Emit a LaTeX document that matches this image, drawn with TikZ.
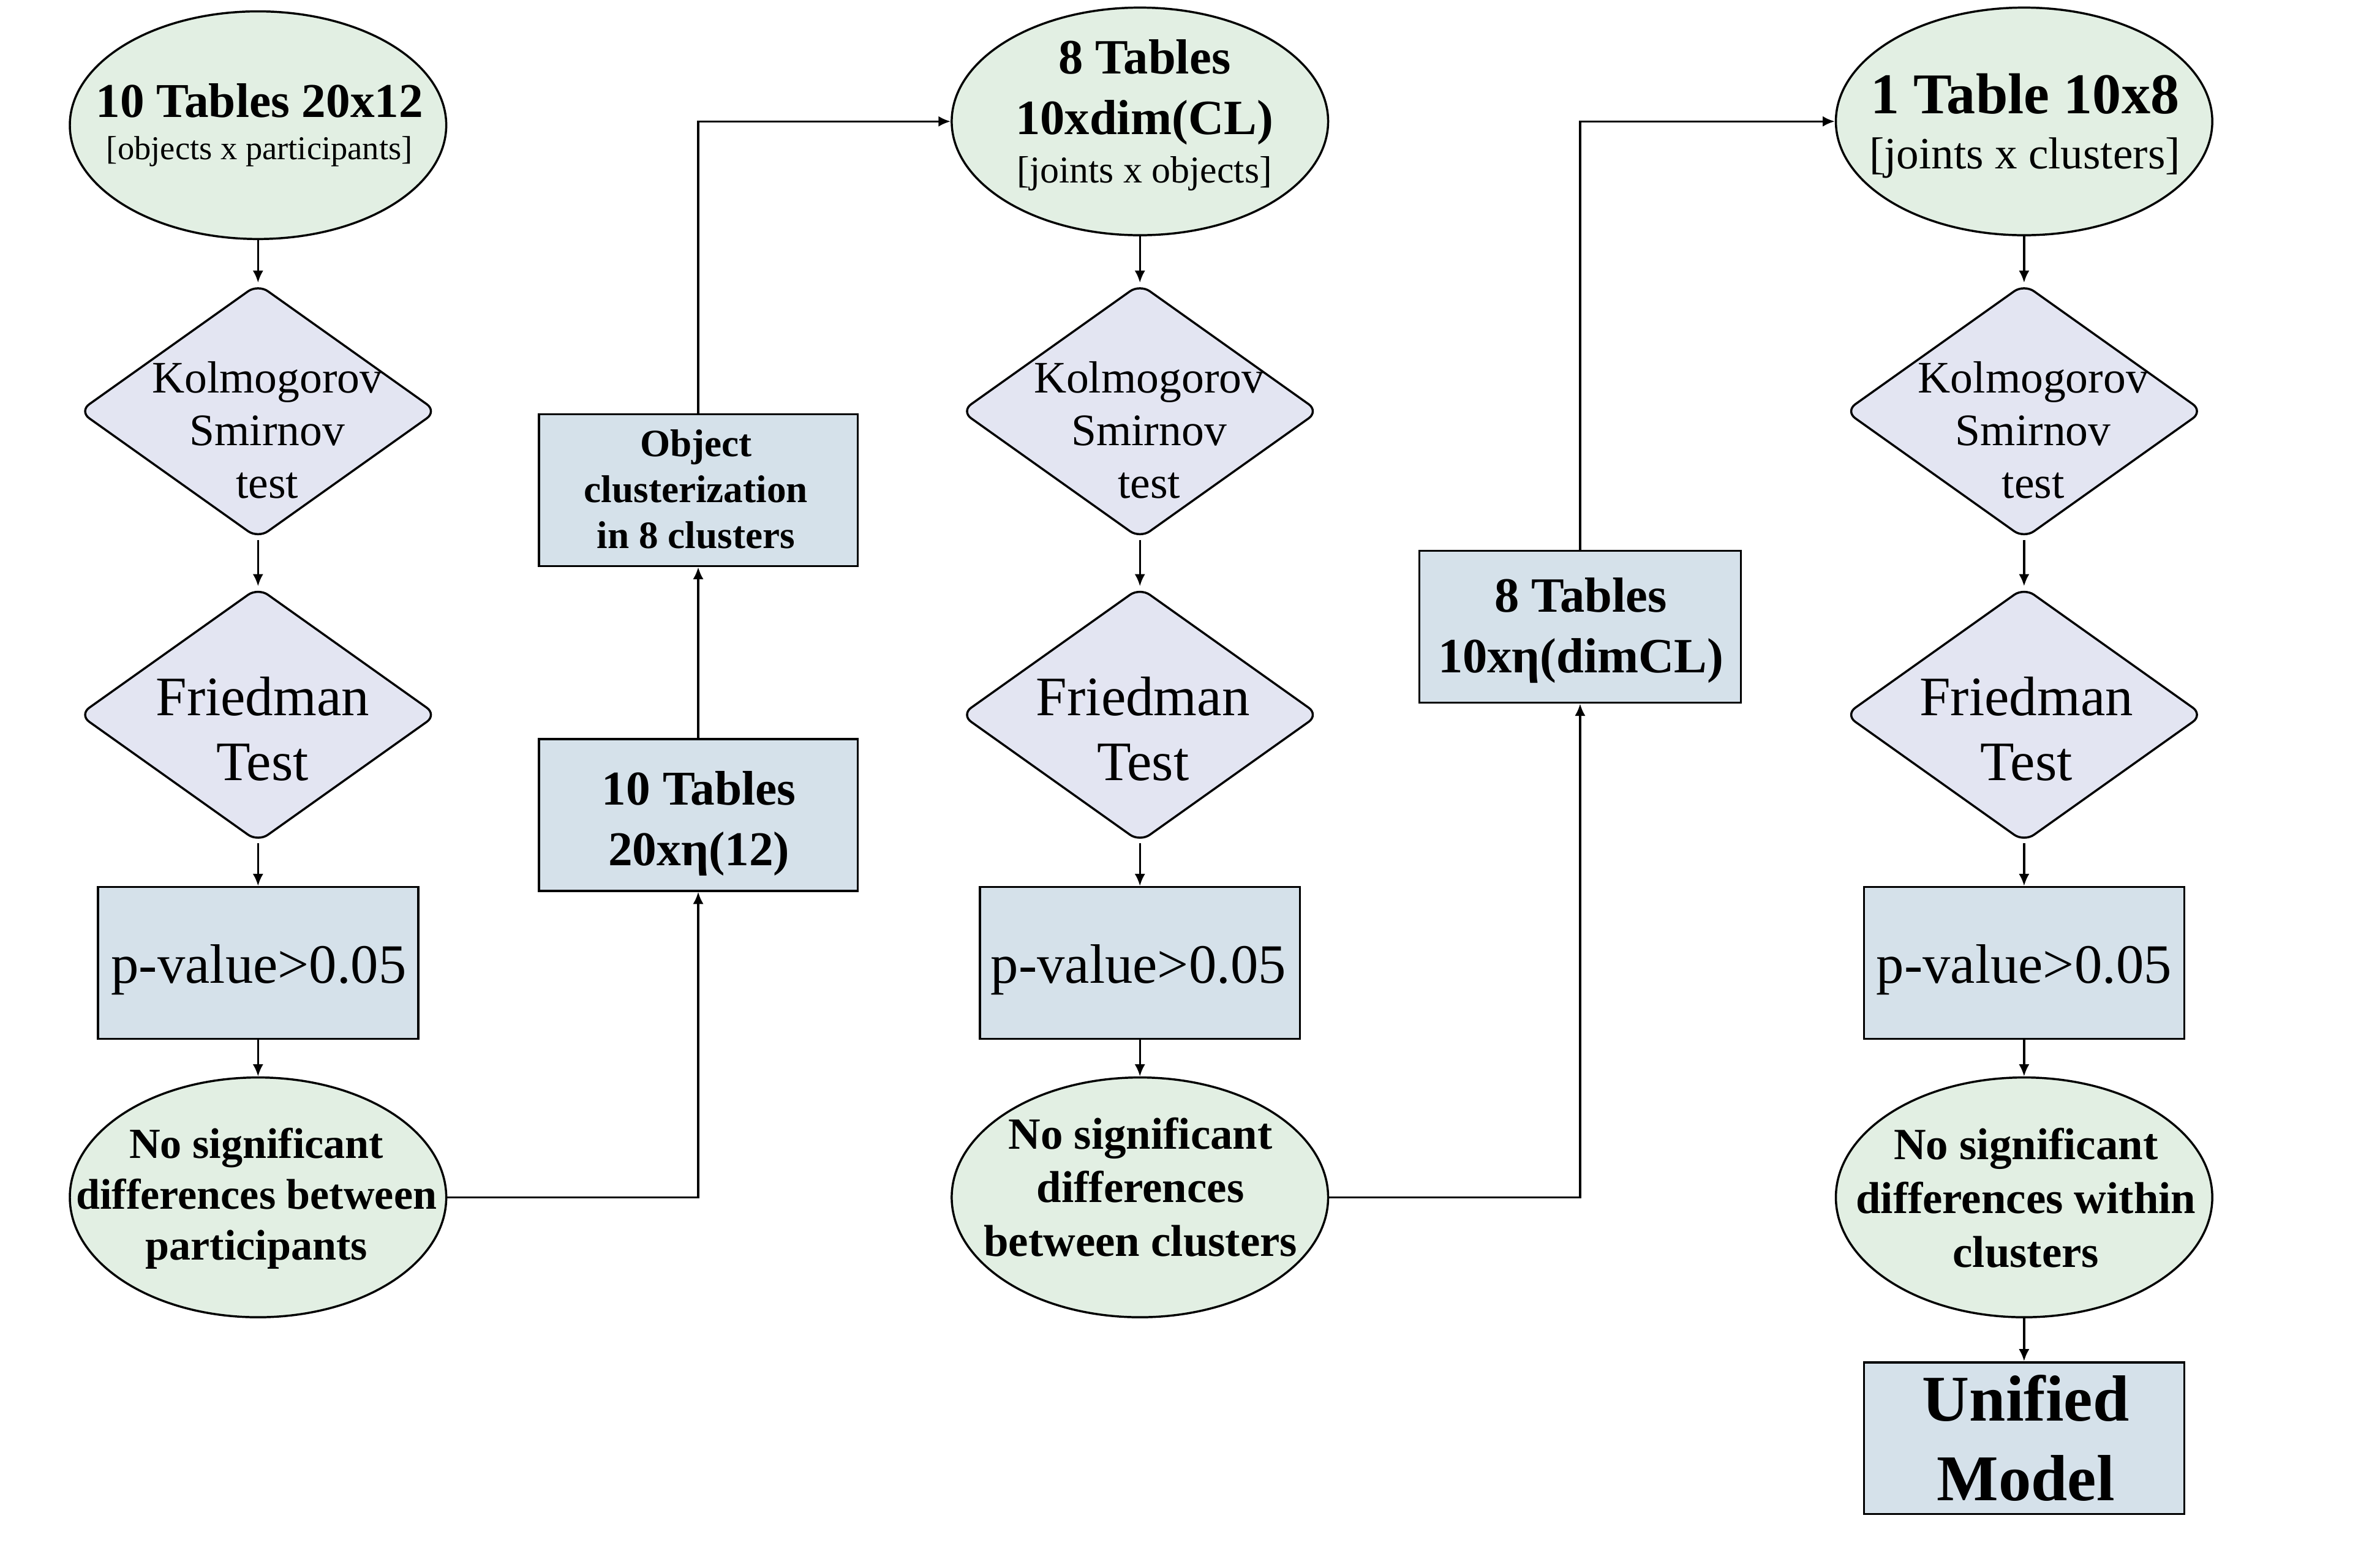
\documentclass[tikz,border=0pt]{standalone}
\usepackage{fontspec}
\setmainfont{Liberation Serif}
\usetikzlibrary{shapes.geometric,arrows.meta}
\definecolor{cgreen}{RGB}{226,239,227}
\definecolor{cviolet}{RGB}{227,229,242}
\definecolor{cblue}{RGB}{213,225,234}
\newcommand{\FS}[2]{\fontsize{#1}{#2}\selectfont}
\tikzset{
  oval/.style={ellipse,draw,fill=cgreen,line width=1.4pt,inner sep=0pt,minimum width=248pt,minimum height=150pt},
  lowoval/.style={oval,minimum height=158pt},
  decision/.style={diamond,draw,fill=cviolet,line width=1.4pt,inner sep=0pt,minimum width=236pt,minimum height=168pt,rounded corners=8pt},
  databox/.style={rectangle,draw,fill=cblue,line width=1.4pt,inner sep=0pt,minimum width=211pt,minimum height=100pt},
  lbl/.style={align=center,inner sep=0pt},
  arr/.style={-{Latex[length=8pt,width=7pt]},line width=1.4pt},
}
\begin{document}
\begin{tikzpicture}[x=1pt,y=-1pt]
\useasboundingbox (0,0) rectangle (1568,1027);
% column 1
\node[oval] (e1) at (170,82.5) {};
\node[decision] (k1) at (170,271) {};
\node[decision] (f1) at (170,471) {};
\node[databox] (p1) at (170,634.5) {};
\node[lowoval] (n1) at (170,789) {};
% middle boxes
\node[databox,minimum width=210pt] (o1) at (460,323) {};
\node[databox,minimum width=210pt] (t1) at (460,537) {};
% column 2
\node[oval] (e2) at (751,80) {};
\node[decision] (k2) at (751,271) {};
\node[decision] (f2) at (751,471) {};
\node[databox] (p2) at (751,634.5) {};
\node[lowoval] (n2) at (751,789) {};
\node[databox,minimum width=212pt] (b3) at (1041,413) {};
% column 3
\node[oval] (e3) at (1333.5,80) {};
\node[decision] (k3) at (1333.5,271) {};
\node[decision] (f3) at (1333.5,471) {};
\node[databox] (p3) at (1333.5,634.5) {};
\node[lowoval] (n3) at (1333.5,789) {};
\node[databox] (u3) at (1333.5,947.7) {};

% texts
\node[lbl,font=\FS{22}{28}] (e1t) at (171,82.4) {{\FS{32}{28}\bfseries 10 Tables 20x12}\\ {[objects x participants]}};
\node[lbl,font=\FS{29.7}{34.7}] (k1t) at (176,283.2) {Kolmogorov\\Smirnov\\test};
\node[lbl,font=\FS{36.7}{43}] (f1t) at (173,480.4) {Friedman\\Test};
\node[lbl,font=\FS{36.6}{40}] (p1t) at (170.5,639) {p-value>0.05};
\node[lbl,font=\FS{28.3}{33.5}\bfseries] (n1t) at (169,789.7) {No significant\\differences between\\participants};

\node[lbl,font=\FS{25.5}{30.3}\bfseries] (o1t) at (458.5,322.5) {Object\\clusterization\\in 8 clusters};
\node[lbl,font=\FS{32}{40}\bfseries] (t1t) at (460.5,542.5) {10 Tables\\20xη(12)};

\node[lbl,font=\FS{32.5}{40}\bfseries] (e2t) at (754,75.9) {8 Tables\\10xdim(CL)\\[-8pt]{\FS{25}{40}\mdseries [joints x objects]}};
\node[lbl,font=\FS{29.7}{34.7}] (k2t) at (757,283.2) {Kolmogorov\\Smirnov\\test};
\node[lbl,font=\FS{36.7}{43}] (f2t) at (753,480.4) {Friedman\\Test};
\node[lbl,font=\FS{36.6}{40}] (p2t) at (750,639) {p-value>0.05};
\node[lbl,font=\FS{29.4}{35.4}\bfseries] (n2t) at (751.4,782.2) {No significant\\differences\\between clusters};
\node[lbl,font=\FS{32.5}{40}\bfseries] (b3t) at (1041.5,415.3) {8 Tables\\10xη(dimCL)};

\node[lbl,font=\FS{29.5}{36}] (e3t) at (1334,83) {{\FS{38}{36}\bfseries 1 Table 10x8}\\ {[joints x clusters]}};
\node[lbl,font=\FS{29.7}{34.7}] (k3t) at (1339.5,283.2) {Kolmogorov\\Smirnov\\test};
\node[lbl,font=\FS{36.7}{43}] (f3t) at (1335,480.4) {Friedman\\Test};
\node[lbl,font=\FS{36.6}{40}] (p3t) at (1333.5,639) {p-value>0.05};
\node[lbl,font=\FS{29.4}{35.5}\bfseries] (n3t) at (1334.7,789.4) {No significant\\differences within\\clusters};
\node[lbl,font=\FS{43}{52.4}\bfseries] (u3t) at (1334.6,947.6) {Unified\\Model};

% connectors
\draw[arr] (e1.south) -- (k1.north);
\draw[arr] (k1.south) -- (f1.north);
\draw[arr] (f1.south) -- (p1.north);
\draw[arr] (p1.south) -- (n1.north);
\draw[arr] (n1.east) -| (t1.south);
\draw[arr] (t1.north) -- (o1.south);
\draw[arr] (o1.north) |- (e2.west);
\draw[arr] (e2.south) -- (k2.north);
\draw[arr] (k2.south) -- (f2.north);
\draw[arr] (f2.south) -- (p2.north);
\draw[arr] (p2.south) -- (n2.north);
\draw[arr] (n2.east) -| (b3.south);
\draw[arr] (b3.north) |- (e3.west);
\draw[arr] (e3.south) -- (k3.north);
\draw[arr] (k3.south) -- (f3.north);
\draw[arr] (f3.south) -- (p3.north);
\draw[arr] (p3.south) -- (n3.north);
\draw[arr] (n3.south) -- (u3.north);
\end{tikzpicture}
\end{document}
